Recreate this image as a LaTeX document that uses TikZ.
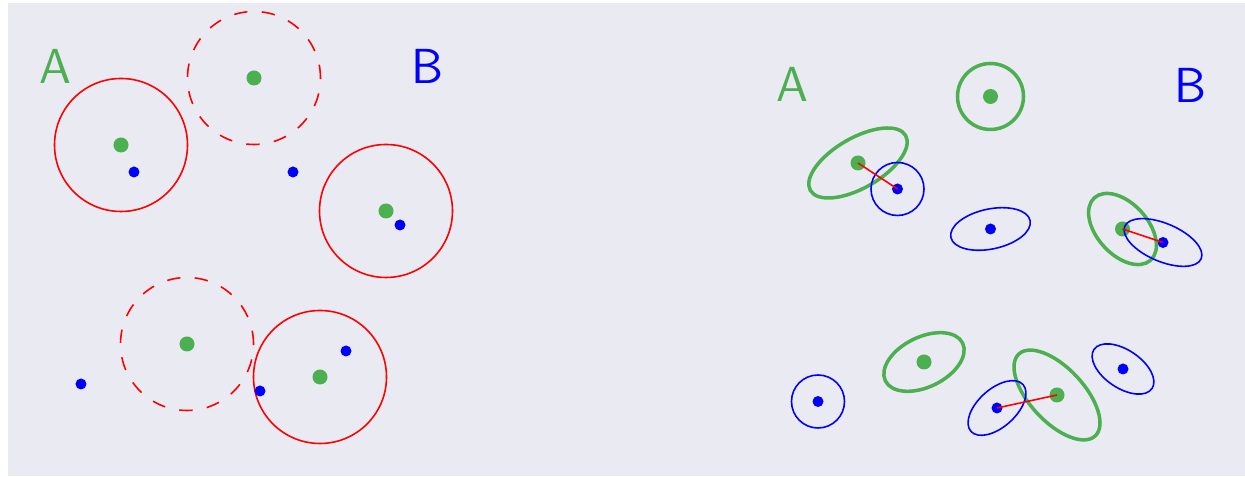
\documentclass[tikz,border=0pt]{standalone}
\usepackage{tikz}
\definecolor{lavender}{HTML}{EAEAF2}
\definecolor{green}{HTML}{4CAF50}
\definecolor{blue}{HTML}{0000FF}
\definecolor{red}{HTML}{FF0000}
\tikzset{
  gdot/.style={circle, fill=green, inner sep=0pt, minimum size=0.15cm},
  bdot/.style={circle, fill=blue, inner sep=0pt, minimum size=0.11cm},
  hull/.style={draw=red, line width=0.45pt},
  hulldash/.style={hull, dash pattern=on 3.8pt off 4.1pt},
  gring/.style={draw=green, line width=1pt},
  bring/.style={draw=blue, line width=0.45pt},
  link/.style={draw=red, line width=0.45pt},
  tag/.style={inner sep=0pt, font=\fontsize{14}{16}\selectfont\sffamily}
}

\begin{document}
\begin{tikzpicture}[x=0.01cm, y=0.01cm]
  \useasboundingbox (0,0) rectangle (1245,-477);
  \fill[lavender] (8,-3) rectangle (1245,-476);

  % left panel
  \node[tag, text=green] (la) at (55,-66) {A};
  \node[tag, text=blue] (lb) at (427,-66) {B};

  \node[gdot] (lg1) at (121,-145) {};
  \node[gdot] (lg2) at (254,-78) {};
  \node[gdot] (lg3) at (386,-211) {};
  \node[gdot] (lg4) at (187,-344) {};
  \node[gdot] (lg5) at (320,-377) {};

  \draw[hull] (lg1.center) circle [radius=66.5];
  \draw[hulldash] (lg2.center) circle [radius=66.5];
  \draw[hull] (lg3.center) circle [radius=66.5];
  \draw[hulldash] (lg4.center) circle [radius=66.5];
  \draw[hull] (lg5.center) circle [radius=66.5];

  \node[bdot] (lb1) at (134,-172) {};
  \node[bdot] (lb2) at (293,-172) {};
  \node[bdot] (lb3) at (400,-225) {};
  \node[bdot] (lb4) at (81,-384) {};
  \node[bdot] (lb5) at (260,-391) {};
  \node[bdot] (lb6) at (346,-351) {};

  % right panel
  \node[tag, text=green] (ra) at (792,-84) {A};
  \node[tag, text=blue] (rb) at (1190,-85) {B};

  \node[gdot] (rg1) at (858,-163) {};
  \node[gdot] (rg2) at (990.5,-96.5) {};
  \node[gdot] (rg3) at (1122.5,-229) {};
  \node[gdot] (rg4) at (924,-362) {};
  \node[gdot] (rg5) at (1057,-395) {};

  \node[bdot] (rb1) at (897.5,-189) {};
  \node[bdot] (rb2) at (990.5,-229) {};
  \node[bdot] (rb3) at (1163,-242.5) {};
  \node[bdot] (rb4) at (818,-401.5) {};
  \node[bdot] (rb5) at (997,-408) {};
  \node[bdot] (rb6) at (1123,-369) {};

  \draw[gring] (rg1.center) circle [x radius=55, y radius=25, rotate=30];
  \draw[gring] (rg2.center) circle [radius=33];
  \draw[gring] (rg3.center) circle [x radius=42, y radius=25.5, rotate=-48];
  \draw[gring] (rg4.center) circle [x radius=43, y radius=25, rotate=26];
  \draw[gring] (rg5.center) circle [x radius=56, y radius=27, rotate=-47];

  \draw[bring] (rb1.center) circle [radius=26.5];
  \draw[bring] (rb2.center) circle [x radius=40.5, y radius=20, rotate=12];
  \draw[bring] (rb3.center) circle [x radius=41.5, y radius=19, rotate=-23];
  \draw[bring] (rb4.center) circle [radius=26.5];
  \draw[bring] (rb5.center) circle [x radius=35, y radius=19, rotate=42];
  \draw[bring] (rb6.center) circle [x radius=35, y radius=19, rotate=-34];

  \draw[link] (rg1.center) -- (rb1.center);
  \draw[link] (rg3.center) -- (rb3.center);
  \draw[link] (rb5.center) -- (rg5.center);
\end{tikzpicture}
\end{document}
